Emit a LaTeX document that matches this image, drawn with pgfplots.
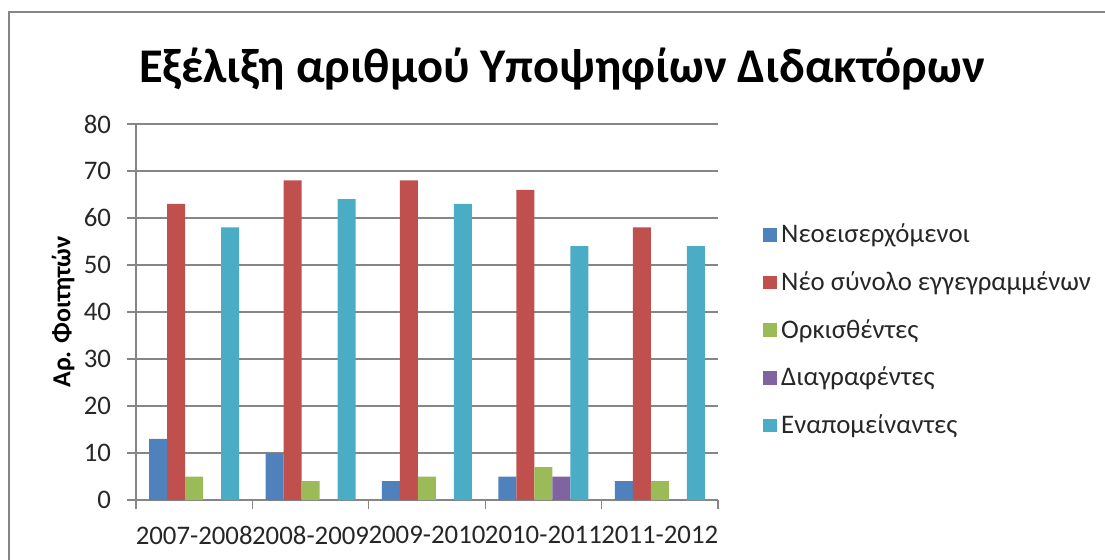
\documentclass[border=0pt]{standalone}
\usepackage{fontspec}
\setmainfont{Carlito}
\usepackage{pgfplots}
\pgfplotsset{compat=1.18}

\definecolor{sBlue}{HTML}{4F81BD}
\definecolor{sRed}{HTML}{C0504D}
\definecolor{sGreen}{HTML}{9BBB59}
\definecolor{sPurple}{HTML}{8064A2}
\definecolor{sCyan}{HTML}{4BACC6}
\definecolor{gridgray}{HTML}{868686}

\begin{document}
\begin{tikzpicture}
% 1 px of the reference = 0.5pt
\path[use as bounding box] (0,0) rectangle (552.5pt,279.5pt);
\draw[gridgray, line width=1.2pt] (4.5pt,-5pt) -- (4.5pt,273.5pt) -- (560pt,273.5pt);
\node[font=\fontsize{24.2}{29}\selectfont\bfseries] at (281pt,245pt) {Εξέλιξη αριθμού Υποψηφίων Διδακτόρων};

\begin{axis}[
    at={(68pt,29.5pt)}, anchor=south west,
    scale only axis,
    width=291pt, height=188pt,
    ybar=0pt, bar width=9pt,
    xmin=-0.5, xmax=4.5,
    ymin=0, ymax=80,
    ytick={0,10,...,80},
    xtick={0,1,2,3,4},
    xticklabels={2007-2008,2008-2009,2009-2010,2010-2011,2011-2012},
    minor xtick={-0.5,0.5,...,4.5},
    major x tick style={draw=none},
    tick align=outside,
    major tick length=4.5pt, minor tick length=4.5pt,
    tick style={gridgray, line width=0.6pt},
    axis x line*=bottom, axis y line*=left,
    axis line style={gridgray, line width=0.6pt, -},
    ymajorgrids, grid style={gridgray, line width=0.6pt},
    ticklabel style={font=\fontsize{13.4}{16}\selectfont, text=black!85},
    /pgf/number format/assume math mode=true,
    xticklabel style={yshift=-5pt},
    yticklabel style={xshift=-4.5pt},
    ylabel={Αρ. Φοιτητών},
    every axis y label/.style={at={(axis description cs:-0.1254,0.5)}, rotate=90, anchor=center, font=\fontsize{13}{15}\selectfont\bfseries},
    legend style={draw=none, fill=none, at={(axis description cs:1.066,0.452)}, anchor=west,
        font=\fontsize{13.4}{16}\selectfont, row sep=8.9pt, text=black!85,
        /tikz/every even column/.append style={column sep=1pt}},
    legend cell align=left,
    legend image code/.code={\fill[#1] (0pt,-3.4pt) rectangle (7.2pt,3.4pt);},
]
\addplot[fill=sBlue, draw=none] coordinates {(0,13) (1,10) (2,4) (3,5) (4,4)};
\addplot[fill=sRed, draw=none] coordinates {(0,63) (1,68) (2,68) (3,66) (4,58)};
\addplot[fill=sGreen, draw=none] coordinates {(0,5) (1,4) (2,5) (3,7) (4,4)};
\addplot[fill=sPurple, draw=none] coordinates {(0,0) (1,0) (2,0) (3,5) (4,0)};
\addplot[fill=sCyan, draw=none] coordinates {(0,58) (1,64) (2,63) (3,54) (4,54)};
\legend{Νεοεισερχόμενοι, Νέο σύνολο εγγεγραμμένων, Ορκισθέντες, Διαγραφέντες, Εναπομείναντες}
\end{axis}
\end{tikzpicture}
\end{document}
